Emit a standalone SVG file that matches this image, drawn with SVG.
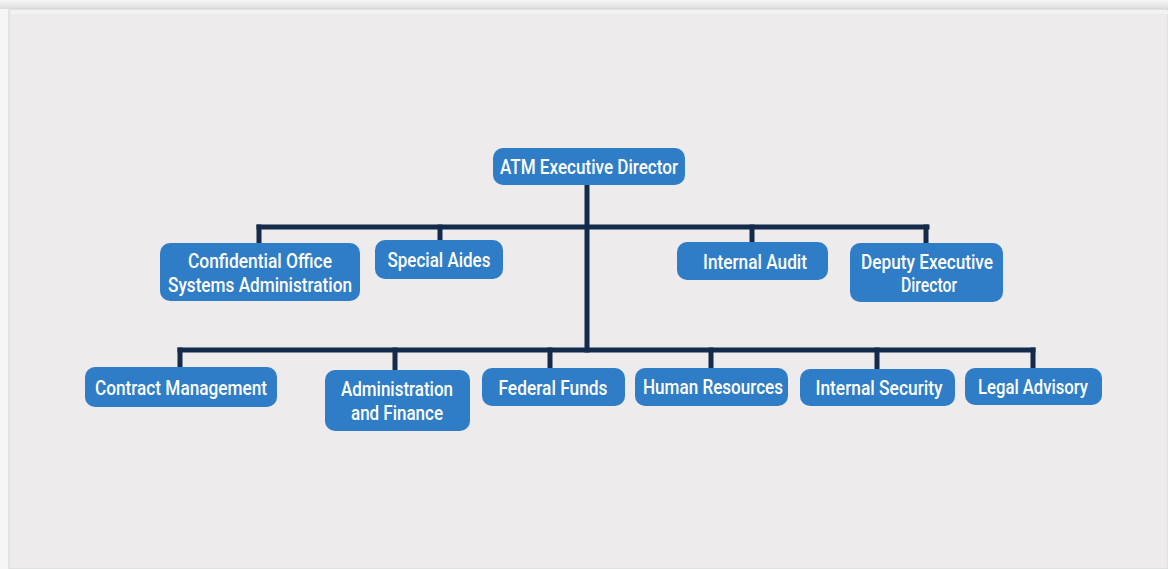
<svg xmlns="http://www.w3.org/2000/svg" width="1168" height="569" viewBox="0 0 1168 569">
<style>
.box{fill:#2f7dc6;}
.t{fill:#ffffff;font-family:"Roboto","Liberation Sans",sans-serif;font-size:20px;font-weight:500;text-anchor:middle;}
.ln{stroke:#142b4b;stroke-width:5;fill:none;stroke-linecap:square;}
</style>
<defs>
<linearGradient id="topsh" x1="0" y1="0" x2="0" y2="1">
<stop offset="0" stop-color="#f7f7f7"/>
<stop offset="1" stop-color="#dcdcdc"/>
</linearGradient>
</defs>
<rect x="0" y="0" width="1168" height="569" fill="#f6f6f6"/>
<rect x="0" y="0" width="1168" height="9" fill="url(#topsh)"/>
<rect x="9" y="9" width="1159" height="560" fill="#edebeb" stroke="#d6d6d6" stroke-width="1"/>
<rect x="10" y="10" width="1158" height="4" fill="#f3f2f2"/>
<g id="connectors">
<path class="ln" d="M587 185 V350"/>
<path class="ln" d="M259 227 H927"/>
<path class="ln" d="M259 227 V243 M440 227 V240 M752 227 V242 M926 227 V243"/>
<path class="ln" d="M180 350 H1033"/>
<path class="ln" d="M180 350 V367 M395 350 V370 M550 350 V368 M711 350 V368 M877 350 V369 M1033 350 V368"/>
</g>
<g id="n-exec"><rect class="box" x="493" y="148" width="192" height="37" rx="10"/><text class="t" x="589" y="174" textLength="178" lengthAdjust="spacingAndGlyphs">ATM Executive Director</text></g>
<g id="n-conf"><rect class="box" x="160" y="243" width="200" height="58" rx="10"/><text class="t" x="260" y="268" textLength="144" lengthAdjust="spacingAndGlyphs">Confidential Office</text><text class="t" x="260" y="292" textLength="184" lengthAdjust="spacingAndGlyphs">Systems Administration</text></g>
<g id="n-aides"><rect class="box" x="375" y="240" width="128" height="39" rx="10"/><text class="t" x="439" y="267" textLength="103" lengthAdjust="spacingAndGlyphs">Special Aides</text></g>
<g id="n-audit"><rect class="box" x="677" y="242" width="151" height="38" rx="10"/><text class="t" x="755" y="269" textLength="104" lengthAdjust="spacingAndGlyphs">Internal Audit</text></g>
<g id="n-deputy"><rect class="box" x="850" y="243" width="153" height="59" rx="10"/><text class="t" x="927" y="269" textLength="132" lengthAdjust="spacingAndGlyphs">Deputy Executive</text><text class="t" x="929" y="292" textLength="56" lengthAdjust="spacingAndGlyphs">Director</text></g>
<g id="n-contract"><rect class="box" x="85" y="367" width="192" height="40" rx="10"/><text class="t" x="181" y="395" textLength="172" lengthAdjust="spacingAndGlyphs">Contract Management</text></g>
<g id="n-admin"><rect class="box" x="325" y="370" width="145" height="61" rx="10"/><text class="t" x="397" y="396" textLength="112" lengthAdjust="spacingAndGlyphs">Administration</text><text class="t" x="397" y="420" textLength="92" lengthAdjust="spacingAndGlyphs">and Finance</text></g>
<g id="n-federal"><rect class="box" x="482" y="368" width="143" height="38" rx="10"/><text class="t" x="553" y="395" textLength="109" lengthAdjust="spacingAndGlyphs">Federal Funds</text></g>
<g id="n-hr"><rect class="box" x="635" y="368" width="153" height="38" rx="10"/><text class="t" x="713" y="394" textLength="140" lengthAdjust="spacingAndGlyphs">Human Resources</text></g>
<g id="n-security"><rect class="box" x="800" y="369" width="155" height="37" rx="10"/><text class="t" x="879" y="395" textLength="127" lengthAdjust="spacingAndGlyphs">Internal Security</text></g>
<g id="n-legal"><rect class="box" x="965" y="368" width="137" height="37" rx="10"/><text class="t" x="1033" y="394" textLength="110" lengthAdjust="spacingAndGlyphs">Legal Advisory</text></g>
</svg>
